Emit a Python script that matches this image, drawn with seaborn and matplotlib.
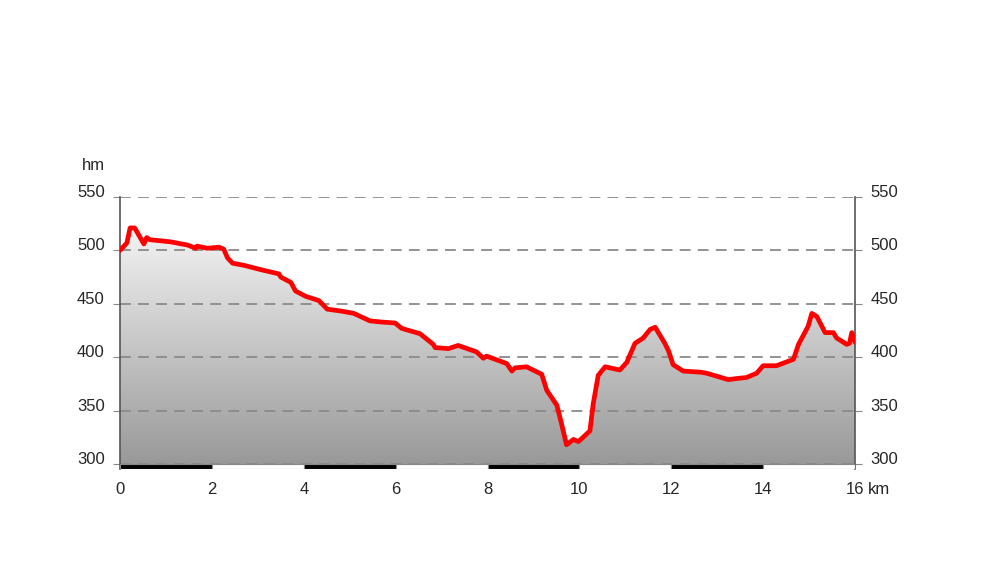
import numpy as np
import pandas as pd
import matplotlib
matplotlib.use("Agg")
import matplotlib.pyplot as plt
from matplotlib.colors import LinearSegmentedColormap
from matplotlib.patches import Rectangle
import seaborn as sns

# elevation profile (km, m)
distance_km = [0.00, 0.15, 0.22, 0.32, 0.52, 0.58, 0.65, 1.10, 1.47, 1.65, 1.68, 1.90,
               2.16, 2.26, 2.34, 2.45, 2.70, 3.06, 3.46, 3.50, 3.72, 3.82, 4.04, 4.33,
               4.51, 4.84, 5.09, 5.44, 5.67, 5.99, 6.13, 6.53, 6.82, 6.86, 7.15, 7.36,
               7.76, 7.91, 7.98, 8.42, 8.53, 8.60, 8.85, 9.18, 9.29, 9.51, 9.61, 9.72,
               9.87, 9.98, 10.23, 10.30, 10.41, 10.56, 10.88, 11.03, 11.21, 11.39, 11.54,
               11.65, 11.86, 11.94, 12.04, 12.26, 12.63, 12.77, 13.24, 13.42, 13.64, 13.86,
               14.00, 14.29, 14.66, 14.77, 14.98, 15.06, 15.17, 15.35, 15.53, 15.60, 15.82,
               15.88, 15.93, 16.00]
elevation_m = [500, 507, 521, 521, 506, 512, 510, 508, 505, 502, 504, 502,
               503, 501, 493, 488, 486, 482, 478, 475, 470, 462, 457, 453,
               445, 443, 441, 434, 433, 432, 427, 422, 412, 409, 408, 411,
               405, 399, 401, 394, 387, 390, 391, 384, 369, 355, 338, 318,
               323, 321, 331, 356, 383, 391, 388, 395, 413, 418, 426,
               428, 413, 406, 393, 387, 386, 385, 379, 380, 381, 385,
               392, 392, 398, 412, 429, 441, 438, 423, 423, 418, 412,
               413, 423, 414]

x_ticks = [0, 2, 4, 6, 8, 10, 12, 14, 16]
y_ticks = [300, 350, 400, 450, 500, 550]

df = pd.DataFrame({"km": distance_km, "hm": elevation_m})

sns.set_style("white")
plt.rcParams['font.family'] = ['Liberation Sans', 'DejaVu Sans']

fig = plt.figure(figsize=(10, 5.84), dpi=100)
ax = fig.add_axes([0.12, 0.1969, 0.735, 0.4658])
y_bottom = 295.3
ax.set_xlim(0, 16)
ax.set_ylim(y_bottom, 550)

# grey gradient under the profile
cmap = LinearSegmentedColormap.from_list("fade", ["#999999", "#ffffff"])
grad = np.linspace(0, 1, 256).reshape(-1, 1)
img = ax.imshow(grad, extent=[0, 16, 300, 550], origin="lower", cmap=cmap,
                aspect="auto", zorder=1)
poly = ax.fill_between(df["km"], 300, df["hm"], color="none", lw=0)
img.set_clip_path(poly.get_paths()[0], transform=ax.transData)

# dashed grid
for y in y_ticks:
    ax.axhline(y, color="#8a8a8a", lw=1.3, ls=(0, (6, 4)), zorder=2)

sns.lineplot(data=df, x="km", y="hm", color="#ff0000", lw=3.4, ax=ax, zorder=4,
             solid_joinstyle="round", solid_capstyle="round")

# km scale bar along the bottom
for i, k in enumerate(x_ticks[:-1]):
    ax.add_patch(Rectangle((k, y_bottom), 2, 300 - y_bottom,
                           facecolor="black" if i % 2 == 0 else "white",
                           edgecolor="#888888", lw=0.8, zorder=3))

ax.set_xticks(x_ticks)
ax.set_xticklabels([str(t) for t in x_ticks])
ax.set_yticks(y_ticks)
ax.tick_params(axis="y", which="both", left=True, right=True, labelleft=True,
               labelright=True, length=5, color="#888888", pad=6, labelsize=12)
ax.tick_params(axis="x", length=0, pad=9, labelsize=12)
for lab in ax.get_yticklabels(which="both"):
    lab.set_verticalalignment("baseline")
for lab in ax.yaxis.get_ticklabels(minor=False):
    lab.set_verticalalignment("baseline")
for t in ax.yaxis.get_major_ticks():
    t.label1.set_verticalalignment("baseline")
    t.label2.set_verticalalignment("baseline")
ax.set_xlabel("")
ax.set_ylabel("")

for side in ["top", "bottom"]:
    ax.spines[side].set_visible(False)
for side in ["left", "right"]:
    ax.spines[side].set_color("#555555")
    ax.spines[side].set_linewidth(1.2)

fig.text(0.082, 0.716, "hm", fontsize=12, ha="left", va="center")
fig.text(0.868, 0.162, "km", fontsize=12, ha="left", va="center")

plt.savefig("out.png", dpi=100)
